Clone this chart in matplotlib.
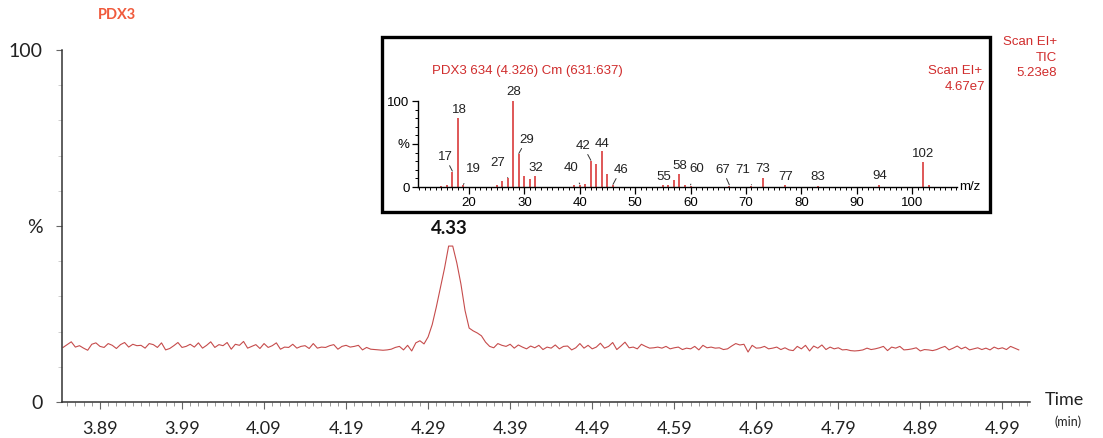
import numpy as np
import matplotlib
matplotlib.use("Agg")
import matplotlib.pyplot as plt
from matplotlib.patches import Rectangle
from matplotlib.ticker import MultipleLocator, FixedLocator

# chromatogram (TIC), % of max, one value per scan
scan_start = 3.845
scan_step = 0.005
tic_pct = [
    15.5, 16.3, 17.1, 15.6, 16.0, 15.3, 14.7, 16.4, 16.8, 15.8,
    15.5, 16.6, 16.1, 15.2, 16.3, 16.9, 15.6, 16.4, 16.0, 16.1,
    15.3, 16.6, 16.3, 15.5, 16.8, 14.8, 15.2, 16.0, 16.9, 15.5,
    15.8, 16.4, 15.6, 16.8, 15.3, 16.1, 17.1, 15.5, 16.3, 16.0,
    16.9, 15.0, 16.4, 16.1, 17.2, 15.3, 15.8, 16.3, 15.2, 16.6,
    15.5, 16.0, 16.8, 15.0, 15.6, 15.5, 16.4, 15.3, 15.8, 16.0,
    15.2, 16.6, 15.3, 15.6, 15.5, 16.0, 16.3, 15.0, 15.8, 16.1,
    15.6, 15.8, 16.1, 14.8, 15.5, 15.0, 14.9, 14.8, 14.7, 14.8,
    15.0, 15.5, 15.8, 14.8, 16.1, 14.5, 16.8, 17.4,
    16.5, 18.5, 22.0, 27.0, 32.5, 38.0, 44.3, 44.3, 39.5, 33.5,
    26.0, 21.0, 20.2, 19.6, 18.8, 17.0, 15.8,
    15.4, 16.6, 16.1, 15.8, 16.4, 15.3, 16.2, 15.6, 15.1, 15.9,
    15.4, 16.1, 14.9, 15.6, 15.3, 16.2, 15.1, 15.8, 15.9, 14.8,
    15.4, 16.6, 15.3, 16.1, 15.1, 15.6, 16.7, 15.3, 15.8, 16.9,
    14.9, 15.9, 17.0, 15.4, 15.6, 15.1, 16.4, 15.8, 15.3, 15.4,
    15.6, 15.3, 15.8, 15.1, 15.4, 15.6, 14.9, 15.3, 15.1, 15.8,
    14.8, 16.1, 15.4, 15.6, 15.3, 15.4, 14.9, 15.1, 15.9, 16.6,
    16.2, 16.4, 14.2, 16.1, 15.3, 15.4, 15.8, 15.1, 15.3, 15.6,
    14.9, 15.4, 14.8, 14.6, 15.8, 15.1, 16.1, 14.5, 15.9, 15.3,
    16.2, 14.9, 15.6, 15.1, 15.4, 14.8, 14.9, 14.6, 14.5, 14.6,
    14.8, 15.3, 14.9, 15.1, 15.4, 15.8, 14.6, 15.6, 15.3, 15.8,
    14.8, 14.9, 15.1, 15.4, 14.5, 14.9, 14.8, 14.6, 14.9, 15.4,
    15.8, 14.8, 15.3, 15.9, 15.1, 15.6, 14.8, 15.1, 15.4, 14.9,
    15.3, 14.8, 15.6, 15.1, 15.4, 14.9, 15.8, 15.3, 14.8,
]
time_ticks = [3.89, 3.99, 4.09, 4.19, 4.29, 4.39, 4.49, 4.59, 4.69, 4.79, 4.89, 4.99]
peak_rt = 4.3156
peak_label = "4.33"

# mass spectrum of scan 634
mz = [15, 16, 17, 18, 19, 25, 26, 27, 28, 29, 30, 31, 32, 39, 40, 41, 42, 43,
      44, 45, 46, 55, 56, 57, 58, 59, 60, 67, 71, 73, 77, 83, 94, 102, 103]
rel_int = [1.5, 2.5, 17.5, 80, 2, 2, 6.5, 10, 100, 38, 13, 9, 13, 2, 2.5, 3.5, 30, 27,
           42, 15, 2, 2, 2, 8, 15, 2, 1.5, 1.5, 1.5, 11, 2, 1.5, 2, 29, 2]
labelled_mz = [17, 18, 19, 27, 28, 29, 32, 40, 42, 44, 46, 55, 58, 60, 67, 71, 73, 77, 83, 94, 102]

RED = "#c64c4c"
TXT_RED = "#d02c2c"
W, H = 1103, 438

fig = plt.figure(figsize=(W / 100, H / 100), dpi=100)


def fx(px):
    return px / W


def fy(py):
    return 1 - py / H


# ---- main chromatogram ----
ax = fig.add_axes([fx(62), fy(402), fx(1030) - fx(62), fy(50) - fy(402)])
t = scan_start + scan_step * np.arange(len(tic_pct))
ax.plot(t, tic_pct, color=RED, lw=0.8)
ax.set_xlim(3.8437, 5.0237)
ax.set_ylim(0, 100)
for s in ["top", "right"]:
    ax.spines[s].set_visible(False)
for s in ["left", "bottom"]:
    ax.spines[s].set_color("#333333")
    ax.spines[s].set_linewidth(1.1)

ax.xaxis.set_major_locator(FixedLocator(time_ticks))
ax.set_xticklabels([f"{v:.2f}" for v in time_ticks], fontsize=13, family="Lato", color="#222222")
ax.xaxis.set_minor_locator(MultipleLocator(0.01))
ax.tick_params(axis="x", which="major", length=5, width=0.8, color="#666666", pad=9)
ax.tick_params(axis="x", which="minor", length=3, width=0.6, color="#888888")

ax.yaxis.set_major_locator(FixedLocator([0, 50, 100]))
ax.set_yticklabels(["0", "%", "100"], fontsize=14, family="Lato", color="#222222")
ax.yaxis.set_minor_locator(MultipleLocator(10))
ax.tick_params(axis="y", which="major", length=4, width=0.8, color="#666666", pad=10)
ax.tick_params(axis="y", which="minor", length=3, width=0.5, color="#bbbbbb")

ax.text(peak_rt, 49.4, peak_label, ha="center", va="center", fontsize=13.5,
        fontweight="bold", family="Lato", color="#111111")

fig.text(fx(117), fy(15), "PDX3", ha="center", va="center", fontsize=10.5,
         fontweight="bold", family="Lato", color="#f05a3c")
fig.text(fx(1064), fy(400), "Time", ha="center", va="center", fontsize=13,
         family="Lato", color="#222222")
fig.text(fx(1068), fy(422), "(min)", ha="center", va="center", fontsize=9,
         family="Lato", color="#222222")
for line, py in zip(["Scan EI+", "TIC", "5.23e8"], [42, 58, 73]):
    fig.text(fx(1057), fy(py), line, ha="right", va="center", fontsize=9.5,
             family="Liberation Sans", color=TXT_RED)

# ---- inset box + spectrum ----
fig.patches.append(Rectangle((fx(382), fy(212)), fx(990) - fx(382), fy(37) - fy(212),
                             transform=fig.transFigure, fill=False, ec="black", lw=2.4))

ins = fig.add_axes([fx(418), fy(187), fx(957) - fx(418), fy(101) - fy(187)])
ins.vlines(mz, 0, rel_int, color="#d62a2a", lw=1.1)
ins.set_xlim(10.8, 108.1)
ins.set_ylim(0, 100)
ins.patch.set_alpha(0)
for s in ["top", "right"]:
    ins.spines[s].set_visible(False)
ins.spines["left"].set_linewidth(1.0)
ins.spines["bottom"].set_linewidth(1.0)
ins.xaxis.set_major_locator(MultipleLocator(10))
ins.xaxis.set_minor_locator(MultipleLocator(1))
ins.tick_params(axis="x", which="major", length=5, width=0.9, labelsize=9.5, pad=2)
ins.tick_params(axis="x", which="minor", length=2.5, width=0.7)
for lab in ins.get_xticklabels():
    lab.set_family("Liberation Sans")
ins.yaxis.set_major_locator(FixedLocator([0, 50, 100]))
ins.set_yticklabels(["0", "%", "100"], fontsize=9.5, family="Liberation Sans")
ins.yaxis.set_minor_locator(MultipleLocator(10))
ins.tick_params(axis="y", which="major", length=4, width=0.9, pad=2)
ins.tick_params(axis="y", which="minor", length=2, width=0.7)
ins.text(1.004, 0.0, "m/z", transform=ins.transAxes, ha="left", va="center",
         fontsize=9.5, family="Liberation Sans")

# where each peak label sits (m/z, %) - leader drawn when offset sideways
label_pos = {17: (15.7, 35), 18: (18.2, 89), 19: (20.8, 21), 27: (25.2, 28),
             28: (28.0, 110), 29: (30.4, 55), 32: (32.1, 22), 40: (38.5, 22),
             42: (40.6, 48), 44: (44.0, 50), 46: (47.4, 20), 55: (55.1, 12),
             58: (58.1, 24), 60: (61.2, 21), 67: (65.8, 20), 71: (69.5, 20),
             73: (73.1, 21), 77: (77.2, 12), 83: (83.0, 12), 94: (94.2, 13),
             102: (102.0, 38)}
heights = dict(zip(mz, rel_int))
for m in labelled_mz:
    lx, ly = label_pos[m]
    h = heights[m]
    leader = abs(lx - m) > 0.8
    if leader:
        ins.annotate(str(m), xy=(m, h + 1), xytext=(lx, ly), ha="center", va="center",
                     fontsize=9.5, family="Liberation Sans", color="#222222",
                     arrowprops=dict(arrowstyle="-", color="#333333", lw=0.7,
                                     shrinkA=5, shrinkB=0),
                     annotation_clip=False)
    else:
        ins.text(lx, ly, str(m), ha="center", va="center", fontsize=9.5,
                 family="Liberation Sans", color="#222222", clip_on=False)

fig.text(fx(432), fy(71), "PDX3 634 (4.326) Cm (631:637)", ha="left", va="center",
         fontsize=9.5, family="Liberation Sans", color=TXT_RED)
fig.text(fx(982), fy(71), "Scan EI+", ha="right", va="center",
         fontsize=9.5, family="Liberation Sans", color=TXT_RED)
fig.text(fx(985), fy(87), "4.67e7", ha="right", va="center",
         fontsize=9.5, family="Liberation Sans", color=TXT_RED)

fig.savefig("out.png", dpi=100)
